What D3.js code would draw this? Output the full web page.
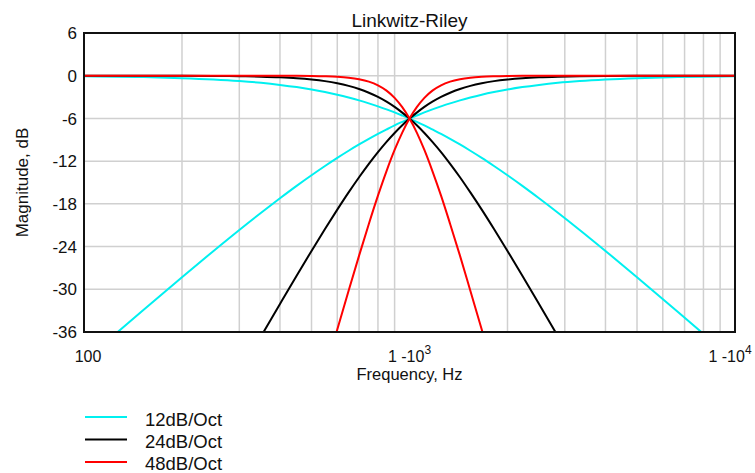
<!DOCTYPE html>
<html>
<head>
<meta charset="utf-8">
<script src="https://cdn.jsdelivr.net/npm/d3@7"></script>
<style>
  body { margin: 0; background: #fff; }
  text { font-family: "Liberation Sans", Arial, sans-serif; fill: #111; }
</style>
</head>
<body>
<div id="chart"></div>
<script>
// frequencies (Hz) the curves were read at
var freqs = [100, 125, 150, 200, 250, 300, 350, 400, 450, 500, 550, 600, 650, 700, 750, 800, 850, 900, 950, 1000,
             1053, 1111, 1176, 1250, 1333, 1429, 1538, 1667, 1818, 2000, 2222, 2500, 2857, 3333, 4000, 5000, 6667, 8000, 10000];

// low pass, dB
var lp12 = [-0.09, -0.13, -0.19, -0.34, -0.53, -0.75, -1.00, -1.29, -1.60, -1.94, -2.30, -2.67, -3.06, -3.46, -3.88, -4.30, -4.72, -5.15, -5.59, -6.02,
            -6.48, -6.98, -7.55, -8.17, -8.87, -9.66, -10.54, -11.54, -12.68, -13.98, -15.47, -17.21, -19.24, -21.66, -24.61, -28.30, -33.15, -36.26, -40.09];
var lp24 = [0, 0, 0, -0.01, -0.03, -0.07, -0.13, -0.22, -0.35, -0.53, -0.76, -1.06, -1.43, -1.87, -2.39, -2.98, -3.65, -4.38, -5.18, -6.02,
            -6.96, -8.04, -9.29, -10.73, -12.38, -14.26, -16.39, -18.81, -21.53, -24.61, -28.09, -32.06, -36.60, -41.90, -48.20, -55.93, -65.92, -72.25, -80.00];
var lp48 = [0, 0, 0, 0, 0, 0, 0, -0.01, -0.01, -0.03, -0.07, -0.14, -0.27, -0.49, -0.83, -1.35, -2.09, -3.11, -4.42, -6.02,
            -7.99, -10.43, -13.39, -16.85, -20.82, -25.27, -30.21, -35.64, -41.61, -48.20, -55.49, -63.67, -72.95, -83.66, -96.30, -111.8, -131.8, -144.5, -160.0];

// high pass, dB
var hp12 = [-40.09, -36.26, -33.15, -28.30, -24.61, -21.66, -19.24, -17.21, -15.47, -13.98, -12.68, -11.54, -10.54, -9.66, -8.87, -8.17, -7.55, -6.98, -6.48, -6.02,
            -5.59, -5.15, -4.72, -4.30, -3.88, -3.46, -3.06, -2.67, -2.30, -1.94, -1.60, -1.29, -1.00, -0.75, -0.53, -0.34, -0.19, -0.13, -0.09];
var hp24 = [-80.00, -72.25, -65.92, -55.93, -48.20, -41.90, -36.60, -32.06, -28.09, -24.61, -21.53, -18.81, -16.39, -14.26, -12.38, -10.73, -9.29, -8.04, -6.96, -6.02,
            -5.18, -4.38, -3.65, -2.98, -2.39, -1.87, -1.43, -1.06, -0.76, -0.53, -0.35, -0.22, -0.13, -0.07, -0.03, -0.01, 0, 0, 0];
var hp48 = [-160.0, -144.5, -131.8, -111.8, -96.30, -83.66, -72.95, -63.67, -55.49, -48.20, -41.61, -35.64, -30.21, -25.27, -20.82, -16.85, -13.39, -10.43, -7.99, -6.02,
            -4.42, -3.11, -2.09, -1.35, -0.83, -0.49, -0.27, -0.14, -0.07, -0.03, -0.01, -0.01, 0, 0, 0, 0, 0, 0, 0];

var yTicks = [6, 0, -6, -12, -18, -24, -30, -36];
var legendLabels = ["12dB/Oct", "24dB/Oct", "48dB/Oct"];
var colors = ["#00f0f0", "#000000", "#ff0000"];

var W = 755, H = 473;
var margin = {left: 84, top: 33, right: 20, bottom: 141};
var pw = W - margin.left - margin.right, ph = H - margin.top - margin.bottom;

var svg = d3.select("#chart").append("svg")
    .attr("width", W).attr("height", H);

var x = d3.scaleLog().domain([100, 10000]).range([0, pw]);
var y = d3.scaleLinear().domain([-36, 6]).range([ph, 0]);

var g = svg.append("g").attr("transform", "translate(" + margin.left + "," + margin.top + ")");

svg.append("defs").append("clipPath").attr("id", "clip")
  .append("rect").attr("width", pw).attr("height", ph);

// grid
var gridFreqs = [];
[100, 1000].forEach(function(dec) {
    for (var k = 2; k <= 9; k++) gridFreqs.push(dec * k);
});
g.selectAll(".vgrid").data(gridFreqs).enter().append("line")
    .attr("x1", function(d){ return x(d); }).attr("x2", function(d){ return x(d); })
    .attr("y1", 0).attr("y2", ph)
    .attr("stroke", function(d){ return d == 1000 ? "#9a9a9a" : "#d0d0d0"; })
    .attr("stroke-width", 1.5);
g.selectAll(".hgrid").data(yTicks.slice(1, -1)).enter().append("line")
    .attr("x1", 0).attr("x2", pw)
    .attr("y1", function(d){ return y(d); }).attr("y2", function(d){ return y(d); })
    .attr("stroke", "#d0d0d0").attr("stroke-width", 1.5);

// curves
var line = d3.line()
    .x(function(d){ return x(d[0]); })
    .y(function(d){ return y(d[1]); })
    .curve(d3.curveMonotoneX);

var series = [[lp12, hp12], [lp24, hp24], [lp48, hp48]];
var curves = g.append("g").attr("clip-path", "url(#clip)");
series.forEach(function(pair, i) {
    pair.forEach(function(vals) {
        curves.append("path")
            .attr("d", line(d3.zip(freqs, vals)))
            .attr("fill", "none")
            .attr("stroke", colors[i])
            .attr("stroke-width", 2);
    });
});

// frame
g.append("rect").attr("width", pw).attr("height", ph)
    .attr("fill", "none").attr("stroke", "#111").attr("stroke-width", 2);

// y tick labels
g.selectAll(".ylab").data(yTicks).enter().append("text")
    .attr("x", -7).attr("y", function(d){ return y(d); })
    .attr("dy", "0.36em").attr("text-anchor", "end")
    .style("font-size", "17px")
    .text(function(d){ return d; });

// x tick labels
var xl = g.append("g").style("font-size", "16px");
xl.append("text").attr("x", x(100) + 4).attr("y", ph + 30).attr("text-anchor", "middle").text("100");
[[1000, "3", 0], [10000, "4", -5]].forEach(function(t) {
    var tx = xl.append("text").attr("x", x(t[0]) + t[2]).attr("y", ph + 30).attr("text-anchor", "middle");
    tx.append("tspan").text("1 -10");
    tx.append("tspan").attr("dy", -8).style("font-size", "12px").text(t[1]);
});

// axis titles
g.append("text").attr("x", pw / 2).attr("y", ph + 48).attr("text-anchor", "middle")
    .style("font-size", "16.5px").text("Frequency, Hz");
g.append("text").attr("transform", "translate(" + (28 - margin.left) + "," + (ph / 2) + ") rotate(-90)")
    .attr("text-anchor", "middle").style("font-size", "17px").text("Magnitude, dB");
svg.append("text").attr("x", margin.left + pw / 2).attr("y", 27).attr("text-anchor", "middle")
    .style("font-size", "19px").text("Linkwitz-Riley");

// legend
var leg = svg.append("g").attr("transform", "translate(85,417)");
legendLabels.forEach(function(lab, i) {
    leg.append("line").attr("x1", 0).attr("x2", 42)
        .attr("y1", i * 22.5).attr("y2", i * 22.5)
        .attr("stroke", colors[i]).attr("stroke-width", 2);
    leg.append("text").attr("x", 60).attr("y", i * 22 + 9)
        .style("font-size", "18.5px").text(lab);
});
</script>
</body>
</html>
